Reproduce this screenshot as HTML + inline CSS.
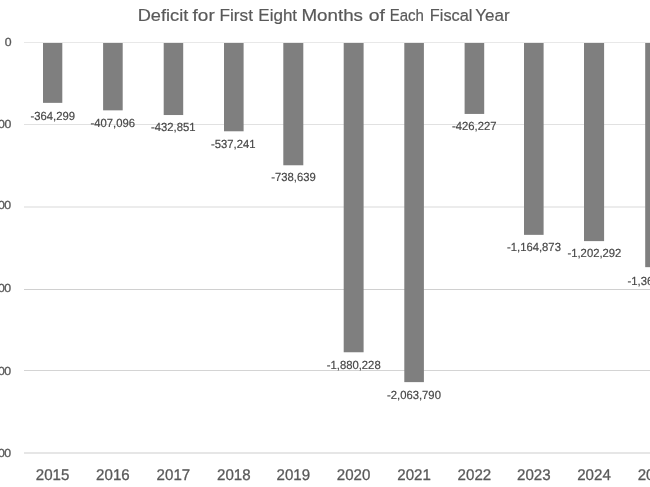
<!DOCTYPE html>
<html><head><meta charset="utf-8"><title>Deficit for First Eight Months of Each Fiscal Year</title>
<style>
html,body{margin:0;padding:0;background:#fff;}
body{width:650px;height:487px;overflow:hidden;}
svg{display:block;font-family:"Liberation Sans",sans-serif;}
.t{font-size:17.1px;fill:#595959;stroke:#595959;stroke-width:0.2px;}
.g{stroke:#d9d9d9;stroke-width:0.8;}
.b{fill:#7f7f7f;}
.v{font-size:11.8px;fill:#484848;stroke:#484848;stroke-width:0.2px;text-anchor:middle;}
.a{font-size:11.7px;letter-spacing:-0.48px;fill:#595959;stroke:#595959;stroke-width:0.3px;text-anchor:end;}
.y{font-size:15.5px;fill:#595959;stroke:#595959;stroke-width:0.3px;text-anchor:middle;}
</style></head><body>
<svg width="650" height="487" viewBox="0 0 650 487">
<rect width="650" height="487" fill="#fff"/>
<text class="t" y="20.5"><tspan x="137.7" textLength="50.6" lengthAdjust="spacingAndGlyphs">Deficit</tspan> <tspan x="192.6" textLength="22.1" lengthAdjust="spacingAndGlyphs">for</tspan> <tspan x="219.5" textLength="33.5" lengthAdjust="spacingAndGlyphs">First</tspan> <tspan x="258.3" textLength="38.8" lengthAdjust="spacingAndGlyphs">Eight</tspan> <tspan x="301.4" textLength="61.6" lengthAdjust="spacingAndGlyphs">Months</tspan> <tspan x="368.8" textLength="16.2" lengthAdjust="spacingAndGlyphs">of</tspan> <tspan x="389.7" textLength="34.2" lengthAdjust="spacingAndGlyphs">Each</tspan> <tspan x="429.8" textLength="42.6" lengthAdjust="spacingAndGlyphs">Fiscal</tspan> <tspan x="475.3" textLength="34.4" lengthAdjust="spacingAndGlyphs">Year</tspan></text>
<line class="g" style="stroke:#e2e2e2" x1="24" x2="650" y1="42.5" y2="42.5"/>
<text class="a" transform="translate(11.0,45.7) scale(1.05,1) skewX(0.05)">0</text>
<line class="g"  x1="24" x2="650" y1="124.5" y2="124.5"/>
<text class="a" transform="translate(10.7,128.2) scale(1.05,1) skewX(0.05)">-500,000</text>
<line class="g" style="stroke-width:1" x1="24" x2="650" y1="207.0" y2="207.0"/>
<text class="a" transform="translate(10.7,209.4) scale(1.05,1) skewX(0.05)">-1,000,000</text>
<line class="g" style="stroke:#d0d0d0;stroke-width:1" x1="24" x2="650" y1="289.5" y2="289.5"/>
<text class="a" transform="translate(10.7,292.0) scale(1.05,1) skewX(0.05)">-1,500,000</text>
<line class="g" style="stroke:#d4d4d4;stroke-width:1" x1="24" x2="650" y1="370.5" y2="370.5"/>
<text class="a" transform="translate(10.7,374.6) scale(1.05,1) skewX(0.05)">-2,000,000</text>
<line class="g" style="stroke:#dedede;stroke-width:1.5" x1="24" x2="650" y1="453.1" y2="453.1"/>
<text class="a" transform="translate(10.7,456.8) scale(1.05,1) skewX(0.05)">-2,500,000</text>
<rect class="b" x="43.00" y="43.0" width="19.30" height="59.86"/>
<text class="v" transform="translate(52.80,119.81) scale(0.957,1) skewX(0.05)">-364,299</text>
<text class="y" transform="translate(52.6,480) scale(0.975,1) skewX(0.05)">2015</text>
<rect class="b" x="103.10" y="43.0" width="19.60" height="67.34"/>
<text class="v" transform="translate(112.75,127.04) scale(0.957,1) skewX(0.05)">-407,096</text>
<text class="y" transform="translate(112.9,480) scale(0.975,1) skewX(0.05)">2016</text>
<rect class="b" x="163.70" y="43.0" width="19.50" height="72.03"/>
<text class="v" transform="translate(173.30,131.28) scale(0.957,1) skewX(0.05)">-432,851</text>
<text class="y" transform="translate(173.4,480) scale(0.975,1) skewX(0.05)">2017</text>
<rect class="b" x="224.00" y="43.0" width="19.60" height="88.28"/>
<text class="v" transform="translate(233.25,148.43) scale(0.957,1) skewX(0.05)">-537,241</text>
<text class="y" transform="translate(233.8,480) scale(0.975,1) skewX(0.05)">2018</text>
<rect class="b" x="283.30" y="43.0" width="20.00" height="122.27"/>
<text class="v" transform="translate(293.55,180.82) scale(0.957,1) skewX(0.05)">-738,639</text>
<text class="y" transform="translate(293.3,480) scale(0.975,1) skewX(0.05)">2019</text>
<rect class="b" x="343.70" y="43.0" width="19.90" height="309.26"/>
<text class="v" transform="translate(353.70,369.11) scale(0.957,1) skewX(0.05)">-1,880,228</text>
<text class="y" transform="translate(353.6,480) scale(0.975,1) skewX(0.05)">2020</text>
<rect class="b" x="404.30" y="43.0" width="19.60" height="339.12"/>
<text class="v" transform="translate(413.95,399.47) scale(0.957,1) skewX(0.05)">-2,063,790</text>
<text class="y" transform="translate(414.1,480) scale(0.975,1) skewX(0.05)">2021</text>
<rect class="b" x="464.60" y="43.0" width="19.60" height="70.94"/>
<text class="v" transform="translate(474.25,130.19) scale(0.957,1) skewX(0.05)">-426,227</text>
<text class="y" transform="translate(474.4,480) scale(0.975,1) skewX(0.05)">2022</text>
<rect class="b" x="524.00" y="43.0" width="19.60" height="191.86"/>
<text class="v" transform="translate(533.95,251.06) scale(0.957,1) skewX(0.05)">-1,164,873</text>
<text class="y" transform="translate(533.8,480) scale(0.975,1) skewX(0.05)">2023</text>
<rect class="b" x="584.00" y="43.0" width="20.10" height="198.11"/>
<text class="v" transform="translate(594.40,257.46) scale(0.957,1) skewX(0.05)">-1,202,292</text>
<text class="y" transform="translate(594.0,480) scale(0.975,1) skewX(0.05)">2024</text>
<rect class="b" x="645.20" y="43.0" width="19.80" height="224.16"/>
<text class="v" transform="translate(654.45,284.91) scale(0.957,1) skewX(0.05)">-1,364,152</text>
<text class="y" transform="translate(654.5,480) scale(0.975,1) skewX(0.05)">2025</text>
</svg></body></html>
